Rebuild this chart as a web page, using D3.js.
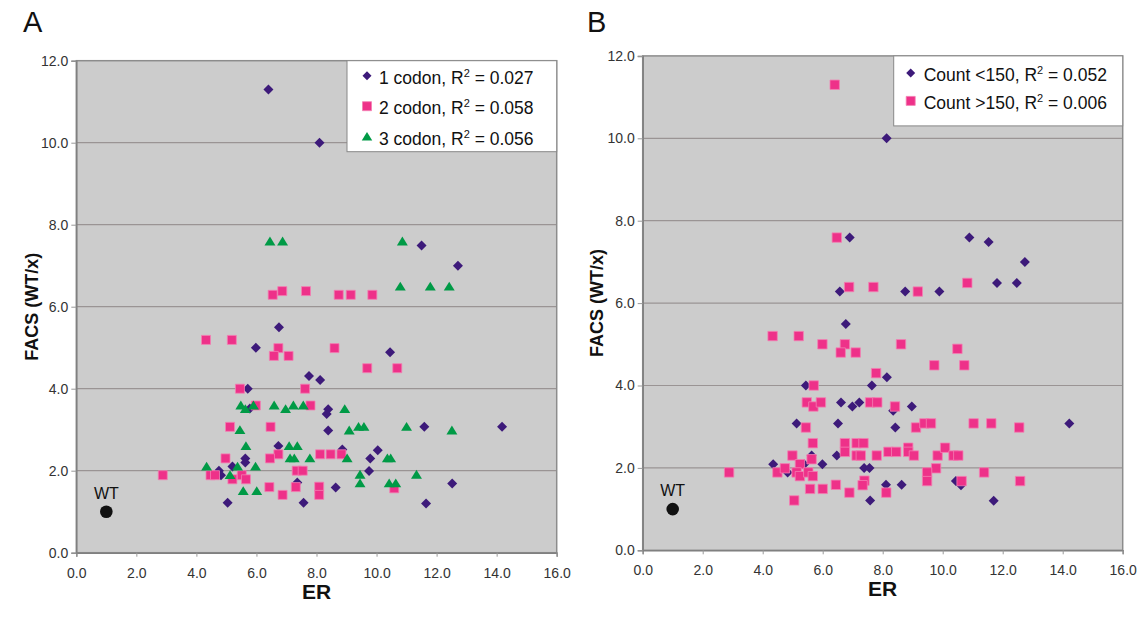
<!DOCTYPE html>
<html><head><meta charset="utf-8">
<script src="https://cdn.jsdelivr.net/npm/d3@7"></script>
<style>body{margin:0;background:#fff}svg text{font-family:"Liberation Sans",Arial,sans-serif}</style>
</head><body>
<svg id="c" width="1144" height="618"></svg>
<script>
// ---------- DATA ----------
const xTicks = [0,2,4,6,8,10,12,14,16];
const yTicks = [0,2,4,6,8,10,12];
const wtPoint = [1.0, 1.0];

const legendA = ["1 codon, R|2| = 0.027", "2 codon, R|2| = 0.058", "3 codon, R|2| = 0.056"];
const legendB = ["Count <150, R|2| = 0.052", "Count >150, R|2| = 0.006"];

const codon1 = [[6.4,11.3],[8.1,10.0],[6.75,5.5],[11.5,7.49],[12.71,7.0],[5.98,5.0],[7.75,4.31],[8.12,4.21],[5.71,4.0],[5.78,3.52],[6.73,2.6],[5.63,2.3],[5.63,2.2],[4.75,2.0],[5.2,2.1],[4.82,1.89],[7.36,1.71],[5.04,1.22],[7.57,1.22],[10.45,4.89],[8.39,3.5],[8.34,3.38],[8.39,2.98],[11.59,3.07],[14.18,3.07],[8.86,2.52],[10.04,2.5],[9.79,2.3],[9.75,1.99],[8.64,1.59],[11.65,1.2],[12.52,1.69]];
const codon2 = [[6.54,6.29],[6.86,6.38],[7.65,6.38],[8.74,6.29],[9.14,6.29],[9.86,6.29],[4.32,5.19],[5.18,5.19],[6.73,4.99],[6.58,4.8],[7.07,4.8],[7.62,4.0],[5.45,4.0],[5.98,3.59],[7.8,3.59],[5.12,3.07],[6.47,3.07],[6.73,2.4],[6.45,2.3],[4.97,2.3],[8.12,2.4],[2.88,1.89],[4.47,1.89],[4.62,1.89],[5.2,1.79],[5.51,1.89],[5.65,1.79],[7.34,2.0],[7.54,2.0],[6.43,1.6],[6.87,1.41],[7.31,1.6],[8.09,1.61],[8.09,1.41],[8.6,4.99],[9.69,4.5],[10.69,4.5],[8.47,2.4],[8.83,2.4],[10.59,1.57]];
const codon3 = [[6.45,7.59],[6.87,7.59],[10.86,7.59],[10.79,6.49],[11.79,6.49],[12.42,6.49],[5.48,3.59],[5.63,3.5],[5.9,3.59],[6.59,3.59],[6.97,3.5],[7.23,3.59],[7.56,3.59],[5.45,2.99],[5.65,2.6],[7.09,2.6],[7.36,2.6],[7.12,2.3],[7.26,2.3],[7.78,2.3],[4.34,2.1],[5.37,2.1],[5.97,2.1],[5.12,1.89],[5.56,1.5],[6.01,1.5],[8.94,3.5],[9.09,2.98],[9.4,3.07],[9.58,3.07],[11.0,3.07],[12.51,2.98],[9.02,2.3],[10.36,2.3],[10.47,2.3],[9.45,1.9],[9.45,1.69],[11.33,1.9],[10.42,1.69],[10.64,1.69]];

const countLow = [[8.13,10.0],[6.9,7.59],[6.57,6.28],[6.77,5.49],[10.89,7.59],[11.53,7.48],[12.74,7.0],[11.81,6.49],[12.47,6.49],[8.75,6.28],[9.89,6.28],[8.14,4.2],[7.64,4.0],[5.44,4.0],[6.61,3.59],[6.99,3.49],[7.22,3.59],[8.35,3.39],[5.13,3.08],[6.51,3.08],[8.42,2.98],[5.63,2.3],[6.47,2.3],[4.35,2.09],[5.38,2.09],[5.99,2.09],[4.83,1.89],[7.38,2.0],[7.56,2.0],[8.11,1.59],[8.63,1.59],[7.58,1.21],[8.97,3.49],[14.22,3.08],[10.44,1.68],[10.61,1.58],[11.7,1.2]];
const countHigh = [[6.4,11.3],[6.47,7.59],[6.88,6.39],[7.69,6.39],[10.82,6.49],[9.17,6.28],[4.33,5.2],[5.2,5.2],[5.99,5.0],[6.74,5.0],[6.6,4.8],[7.1,4.8],[8.61,5.0],[7.78,4.3],[5.7,4.0],[5.47,3.59],[5.69,3.49],[5.94,3.59],[7.58,3.59],[7.82,3.59],[8.41,3.49],[5.44,2.98],[5.67,2.6],[6.74,2.6],[6.74,2.39],[7.13,2.6],[7.36,2.6],[7.13,2.3],[7.27,2.3],[7.8,2.3],[8.19,2.39],[8.45,2.39],[4.99,2.3],[5.63,2.21],[5.24,2.09],[2.88,1.89],[4.49,1.89],[4.74,1.99],[5.13,1.89],[5.24,1.8],[5.52,1.89],[5.67,1.8],[7.39,1.69],[7.33,1.58],[6.44,1.59],[5.58,1.49],[6.0,1.49],[6.89,1.4],[8.12,1.4],[5.05,1.21],[10.49,4.89],[9.72,4.49],[10.72,4.49],[9.11,2.98],[9.39,3.08],[9.61,3.08],[11.03,3.08],[11.62,3.08],[12.55,2.98],[8.85,2.49],[8.85,2.39],[9.04,2.3],[9.83,2.3],[10.08,2.49],[10.36,2.3],[10.52,2.3],[9.78,1.99],[9.48,1.89],[9.48,1.68],[11.38,1.89],[10.63,1.68],[12.58,1.68]];

// ---------- STYLE ----------
const COL = {diamond:"#3d1a7a", square:"#ee3189", squareStroke:"#f47fb2", triangle:"#009a46"};
const svg = d3.select("#c");

function markerPath(type, r){
  if(type==="diamond") return `M0,${-r}L${r},0L0,${r}L${-r},0Z`;
  if(type==="square") return `M${-r},${-r}H${r}V${r}H${-r}Z`;
  return `M0,${-r*0.95}L${r*1.05},${r*0.75}H${-r*1.05}Z`;
}
function drawMarker(g, type, x, y, size){
  const p = g.append("path").attr("d", markerPath(type, size)).attr("transform",`translate(${x},${y})`);
  if(type==="diamond") p.attr("fill",COL.diamond);
  else if(type==="square") p.attr("fill",COL.square).attr("stroke",COL.squareStroke).attr("stroke-width",0.8);
  else p.attr("fill",COL.triangle);
}
function rText(t, sel){
  const parts = t.split("|");
  sel.append("tspan").text(parts[0]);
  sel.append("tspan").text(parts[1]).attr("font-size","11px").attr("dy","-7");
  sel.append("tspan").text(parts[2]).attr("dy","7");
}

function panel(cfg){
  const x = d3.scaleLinear().domain([0,16]).range([cfg.x0, cfg.x1]);
  const y = d3.scaleLinear().domain([0,12]).range([cfg.y0, cfg.y1]);
  const g = svg.append("g");
  g.append("rect").attr("x",cfg.x0).attr("y",cfg.y1).attr("width",cfg.x1-cfg.x0).attr("height",cfg.y0-cfg.y1).attr("fill","#cccccc");
  g.append("g").selectAll("line").data(yTicks.slice(1,-1)).join("line")
    .attr("x1",cfg.x0).attr("x2",cfg.x1).attr("y1",d=>y(d)).attr("y2",d=>y(d))
    .attr("stroke","#9a9494").attr("stroke-width",1.2);
  g.append("rect").attr("x",cfg.x0).attr("y",cfg.y1).attr("width",cfg.x1-cfg.x0).attr("height",cfg.y0-cfg.y1)
    .attr("fill","none").attr("stroke","#8c8c8c").attr("stroke-width",1.5);
  const ax = g.append("g").attr("transform",`translate(0,${cfg.y0})`)
    .call(d3.axisBottom(x).tickValues(xTicks).tickFormat(d3.format(".1f")).tickSize(4).tickPadding(11));
  const ay = g.append("g").attr("transform",`translate(${cfg.x0},0)`)
    .call(d3.axisLeft(y).tickValues(yTicks).tickFormat(d3.format(".1f")).tickSize(5).tickPadding(3));
  [ax,ay].forEach(a=>{
    a.attr("font-size",14).attr("font-family","Liberation Sans, Arial, sans-serif");
    a.select(".domain").attr("stroke","#808080").attr("stroke-width",1.5);
    a.selectAll(".tick line").attr("stroke","#999");
    a.selectAll(".tick text").attr("font-size","14px").attr("fill","#333");
  });
  cfg.series.forEach(s=>{
    const sg = g.append("g");
    s.data.forEach(d=>drawMarker(sg, s.type, x(d[0]), y(d[1]), s.size));
  });
  g.append("circle").attr("cx",x(wtPoint[0])).attr("cy",y(wtPoint[1])).attr("r",6.3).attr("fill","#111");
  g.append("text").attr("x",x(wtPoint[0])).attr("y",y(wtPoint[1])-13).attr("text-anchor","middle")
    .attr("font-size","16px").attr("fill","#111").text("WT");
  const L = cfg.legend;
  g.append("rect").attr("x",L.x).attr("y",cfg.y1).attr("width",cfg.x1-L.x).attr("height",L.h)
    .attr("fill","#fff").attr("stroke","#888").attr("stroke-width",1);
  cfg.series.forEach((s,i)=>{
    const cy = cfg.y1 + L.top + i*L.step;
    drawMarker(g, s.type, L.x+L.mx, cy-2, s.type==="triangle"?5:4.5);
    const t = g.append("text").attr("x",L.x+L.tx).attr("y",cy+6).attr("font-size","17.5px").attr("fill","#111");
    rText(s.label, t);
  });
  svg.append("text").attr("transform",`translate(${cfg.ytx},${(cfg.y0+cfg.y1)/2}) rotate(-90)`)
    .attr("text-anchor","middle").attr("font-size","18px").attr("font-weight","bold").attr("fill","#111").text("FACS (WT/x)");
  svg.append("text").attr("x",(cfg.x0+cfg.x1)/2).attr("y",cfg.y0+46).attr("text-anchor","middle")
    .attr("font-size","21px").attr("font-weight","bold").attr("fill","#111").text("ER");
  svg.append("text").attr("x",cfg.lx).attr("y",32).attr("font-size","29px").attr("fill","#111").text(cfg.letter);
}

panel({letter:"A", lx:23, x0:76.3, x1:556.7, y0:552.7, y1:60.7, ytx:38,
  legend:{x:347, h:91, top:17, step:30.5, mx:20, tx:32},
  series:[
    {type:"diamond", data:codon1, size:5, label:legendA[0]},
    {type:"square", data:codon2, size:4.5, label:legendA[1]},
    {type:"triangle", data:codon3, size:5.2, label:legendA[2]}
  ]});
panel({letter:"B", lx:587, x0:642.7, x1:1122.7, y0:550.3, y1:55.9, ytx:603,
  legend:{x:893.7, h:70, top:19, step:28, mx:17, tx:30},
  series:[
    {type:"diamond", data:countLow, size:5, label:legendB[0]},
    {type:"square", data:countHigh, size:4.7, label:legendB[1]}
  ]});
</script>
</body></html>
